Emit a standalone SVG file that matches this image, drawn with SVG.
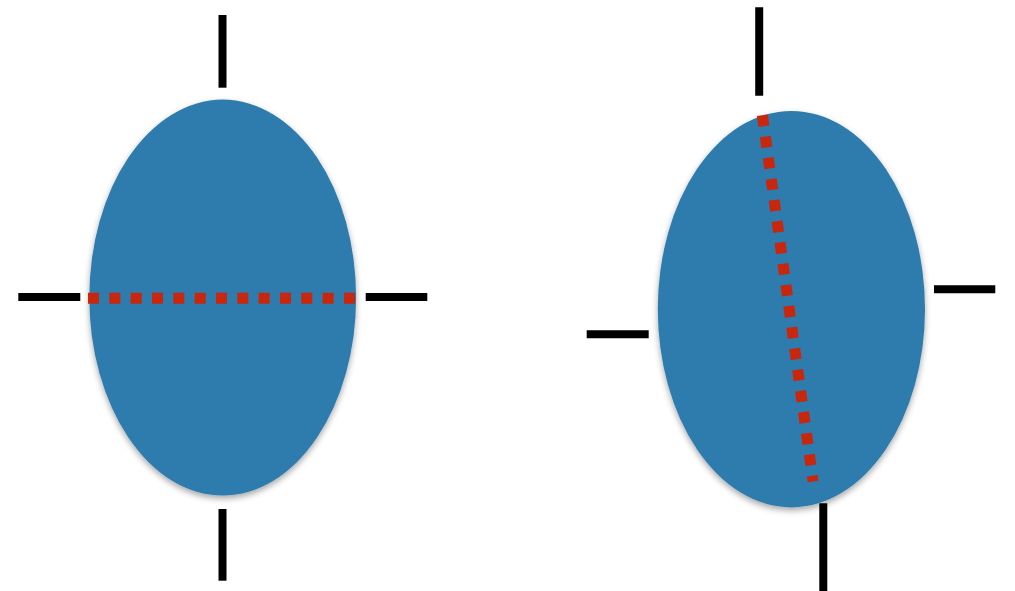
<svg xmlns="http://www.w3.org/2000/svg" width="1015" height="591" viewBox="0 0 1015 591">
  <defs>
    <filter id="shadow" x="-20%" y="-20%" width="140%" height="140%">
      <feDropShadow dx="0" dy="3" stdDeviation="3" flood-color="#000" flood-opacity="0.35"/>
    </filter>
    <style>
      .blob { fill: #2e7cae; filter: url(#shadow); }
      .tick { stroke: #000; stroke-width: 8; fill: none; }
      .axis { stroke: #c8260d; stroke-width: 11; fill: none; }
    </style>
  </defs>
  <rect width="1015" height="591" fill="#ffffff"/>
  <g id="left-ellipse">
    <ellipse class="blob" cx="222.7" cy="297.6" rx="133.4" ry="198"/>
    <line class="axis" x1="88" y1="298.3" x2="355.3" y2="298.3" stroke-dasharray="11 10.33"/>
  </g>
  <g id="left-ticks">
    <line class="tick" x1="222.5" y1="15" x2="222.5" y2="87.7"/>
    <line class="tick" x1="222.5" y1="509" x2="222.5" y2="580.7"/>
    <line class="tick" x1="18.3" y1="297" x2="80.3" y2="297"/>
    <line class="tick" x1="365.7" y1="297" x2="427.3" y2="297"/>
  </g>
  <g id="right-ellipse">
    <ellipse class="blob" cx="791.4" cy="309.2" rx="133.6" ry="198.2"/>
    <line class="axis" x1="762.4" y1="115.3" x2="813.1" y2="481.5" stroke-dasharray="11 10.4"/>
  </g>
  <g id="right-ticks">
    <line class="tick" x1="759.2" y1="7.3" x2="759.2" y2="95.7"/>
    <line class="tick" x1="823.3" y1="503.3" x2="823.3" y2="591"/>
    <line class="tick" x1="586.7" y1="334.2" x2="648.7" y2="334.2"/>
    <line class="tick" x1="934" y1="289.2" x2="995.3" y2="289.2"/>
  </g>
</svg>
